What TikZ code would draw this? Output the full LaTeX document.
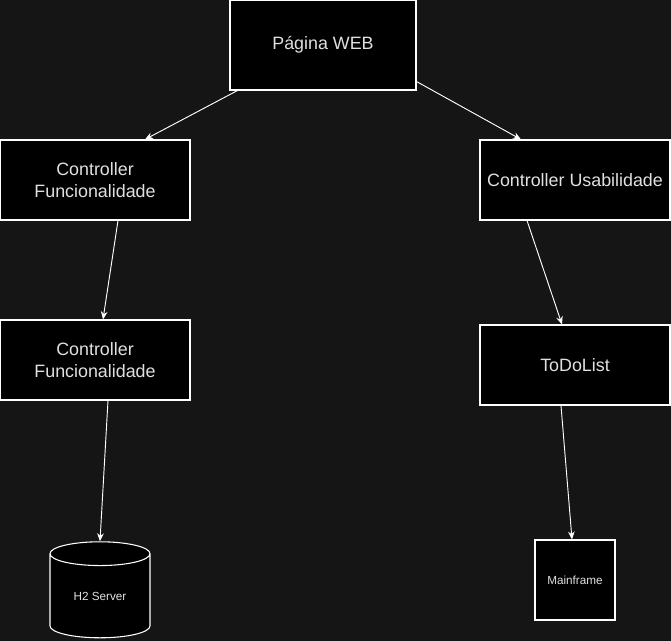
\documentclass[tikz,border=0pt]{standalone}
\usepackage{fontspec}
\setmainfont{Liberation Sans}
\usetikzlibrary{arrows.meta,calc,shapes.geometric}
\definecolor{bgcol}{RGB}{21,21,21}
\definecolor{txtcol}{RGB}{224,224,224}
\tikzset{
  box/.style={rectangle, draw=white, fill=black, text=txtcol, align=center, line width=0.8pt, inner sep=0pt, minimum width=142.5pt, minimum height=60pt, font=\fontsize{13.4}{16.5}\selectfont},
  small/.style={font=\fontsize{8.8}{10.5}\selectfont},
  link/.style={draw=white, line width=0.7pt, -{Stealth[length=6pt,width=5pt]}}
}
\begin{document}
\begin{tikzpicture}[x=0.75pt, y=-0.75pt]
      \fill[bgcol] (0,0) rectangle (671,641);
      \useasboundingbox (0,0) rectangle (671,641);
      \node[box, minimum width=139.5pt, minimum height=67.5pt] (web) at (323,45) {Página WEB};
      \node[box] (func1) at (95,180) {Controller\\Funcionalidade};
      \node[box] (usab) at (575,180) {Controller Usabilidade};
      \node[box] (func2) at (95,360) {Controller\\Funcionalidade};
      \node[box] (todo) at (575,365) {ToDoList};
      \node[box, small, minimum width=60pt, minimum height=60pt] (mainf) at (575,580) {Mainframe};
      \node[cylinder, shape border rotate=90, aspect=0.45, draw=white, fill=black, text=txtcol, line width=0.8pt, small, minimum width=75pt, minimum height=72pt, inner sep=0pt] (h2) at (100,596) {H2 Server};

      \draw[link] ($(web.south west)+(8,0)$) -- ($(func1.north)+(50,0)$);
      \draw[link] ($(web.south east)+(0,-9)$) -- ($(usab.north)+(-54,0)$);
      \draw[link] ($(func1.south)+(23,0)$) -- ($(func2.north)+(8,0)$);
      \draw[link] ($(usab.south)+(-48,0)$) -- ($(todo.north)+(-13,0)$);
      \draw[link] ($(func2.south)+(13,0)$) -- (h2.north);
      \draw[link] ($(todo.south)+(-14,0)$) -- ($(mainf.north)+(-3,0)$);
\end{tikzpicture}
\end{document}
